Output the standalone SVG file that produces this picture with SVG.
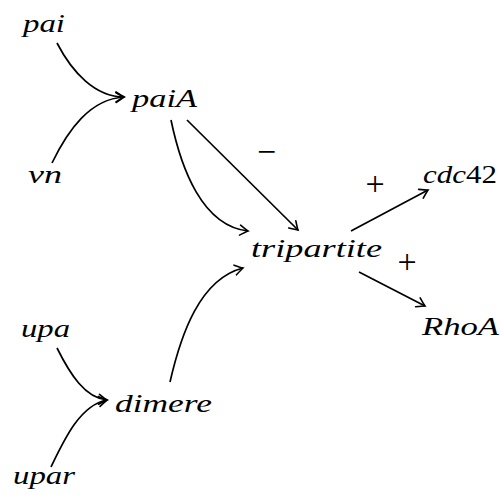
<svg xmlns="http://www.w3.org/2000/svg" width="501" height="495" viewBox="0 0 501 495">
<defs>
<style>
.t{font-family:'Liberation Serif',serif;font-style:italic;font-weight:normal;font-size:26px;fill:#000}
.u{font-style:normal}
.s{font-family:'Liberation Serif',serif;font-size:34px;fill:#000}
.e{fill:none;stroke:#000;stroke-width:1.7;marker-end:url(#ah)}
</style>
<marker id="ah" markerUnits="userSpaceOnUse" viewBox="-10 -6 12 12" markerWidth="12" markerHeight="12" refX="0" refY="0" orient="auto" overflow="visible">
<path d="M-8,-5 Q-2,-1 0,0 Q-2,1 -8,5" fill="none" stroke="#000" stroke-width="1.6" stroke-linecap="round"/>
</marker>
</defs>
<rect width="501" height="495" fill="#fff"/>
<g id="edges">
<path class="e" d="M57,43 C72,72 95,97 124,97"/>
<path class="e" d="M52,163 C68,130 90,99 124,97"/>
<path class="e" d="M171,120 C181,168 202,226 248,231"/>
<path class="e" d="M187,120 L298,230"/>
<path class="e" d="M170,382 C181,334 200,279 243,268"/>
<path class="e" d="M351,231 L428,190"/>
<path class="e" d="M359,272 L425,306"/>
<path class="e" d="M57,348 C70,374 85,398 107,400"/>
<path class="e" d="M51,467 C64,440 80,405 107,400"/>
</g>
<g id="labels">
<text class="s" x="257" y="162.5" textLength="19" lengthAdjust="spacingAndGlyphs">−</text>
<text class="s" x="375" y="194.5" text-anchor="middle">+</text>
<text class="s" x="407" y="272.5" text-anchor="middle">+</text>
</g>
<g id="pai"><text class="t" x="23" y="32" textLength="42" lengthAdjust="spacingAndGlyphs">pai</text></g>
<g id="paiA"><text class="t" x="132" y="107" textLength="65" lengthAdjust="spacingAndGlyphs">paiA</text></g>
<g id="vn"><text class="t" x="28" y="183" textLength="34" lengthAdjust="spacingAndGlyphs">vn</text></g>
<g id="tripartite"><text class="t" x="251" y="257" textLength="131" lengthAdjust="spacingAndGlyphs">tripartite</text></g>
<g id="cdc42"><text class="t" x="423" y="183" textLength="74" lengthAdjust="spacingAndGlyphs">cdc<tspan class="u">42</tspan></text></g>
<g id="RhoA"><text class="t" x="422" y="335" textLength="77" lengthAdjust="spacingAndGlyphs">RhoA</text></g>
<g id="upa"><text class="t" x="21" y="337" textLength="49" lengthAdjust="spacingAndGlyphs">upa</text></g>
<g id="dimere"><text class="t" x="115" y="412" textLength="97" lengthAdjust="spacingAndGlyphs">dimere</text></g>
<g id="upar"><text class="t" x="13" y="484" textLength="62" lengthAdjust="spacingAndGlyphs">upar</text></g>
</svg>
